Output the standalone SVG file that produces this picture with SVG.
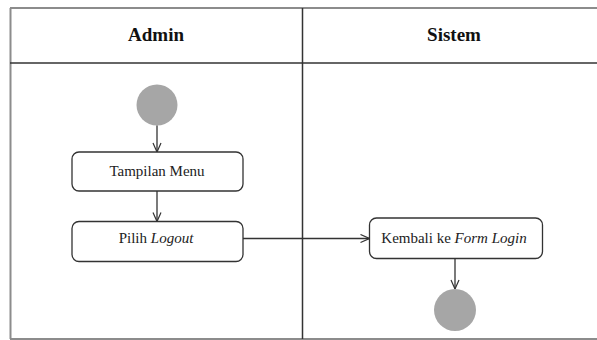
<svg xmlns="http://www.w3.org/2000/svg" width="597" height="340" viewBox="0 0 597 340">
<style>
.lane{stroke:#333;stroke-width:1.5;fill:none}
.lane-l{stroke:#8c8c8c;stroke-width:2;fill:none}
.hdr{font-family:"Liberation Serif",serif;font-weight:bold;font-size:19px;fill:#111;text-anchor:middle}
.box{fill:#fff;stroke:#333;stroke-width:1.3}
.lbl{font-family:"Liberation Serif",serif;font-size:15px;fill:#222;text-anchor:middle}
.dot{fill:#a6a6a6}
.edge{stroke:#333;stroke-width:1.3;fill:none}
</style>
<defs>
<marker id="arr" viewBox="0 0 10 10" refX="10" refY="5" markerWidth="10" markerHeight="10" markerUnits="userSpaceOnUse" orient="auto">
<polyline points="1,1 10,5 1,9" fill="none" stroke="#333" stroke-width="1.2"/>
</marker>
</defs>
<g id="swimlanes">
<line class="lane-l" x1="10" y1="8" x2="597" y2="8"/>
<line class="lane-l" x1="10.5" y1="8" x2="10.5" y2="339"/>
<line class="lane-l" x1="10" y1="339" x2="597" y2="339"/>
<line class="lane" x1="10" y1="63" x2="597" y2="63"/>
<line class="lane" x1="302.5" y1="8" x2="302.5" y2="339"/>
<text class="hdr" x="156" y="41">Admin</text>
<text class="hdr" x="454" y="41">Sistem</text>
</g>
<g id="start"><circle class="dot" cx="157" cy="105" r="20.5"/></g>
<g id="tampilan-menu">
<rect class="box" x="72" y="152" width="171" height="39" rx="7"/>
<text class="lbl" x="157" y="176">Tampilan Menu</text>
</g>
<g id="pilih-logout">
<rect class="box" x="72" y="221.5" width="171" height="40" rx="7"/>
<text class="lbl" x="156" y="243">Pilih <tspan font-style="italic">Logout</tspan></text>
</g>
<g id="kembali-login">
<rect class="box" x="369.5" y="218" width="173" height="40.5" rx="7"/>
<text class="lbl" x="454" y="243">Kembali ke <tspan font-style="italic">Form Login</tspan></text>
</g>
<g id="end"><circle class="dot" cx="455" cy="310" r="21"/></g>
<g id="connectors">
<line class="edge" x1="157" y1="125.5" x2="157" y2="152" marker-end="url(#arr)"/>
<line class="edge" x1="157" y1="191" x2="157" y2="221.5" marker-end="url(#arr)"/>
<line class="edge" x1="243" y1="238.5" x2="369.5" y2="238.5" marker-end="url(#arr)"/>
<line class="edge" x1="455" y1="258.5" x2="455" y2="289" marker-end="url(#arr)"/>
</g>
</svg>
